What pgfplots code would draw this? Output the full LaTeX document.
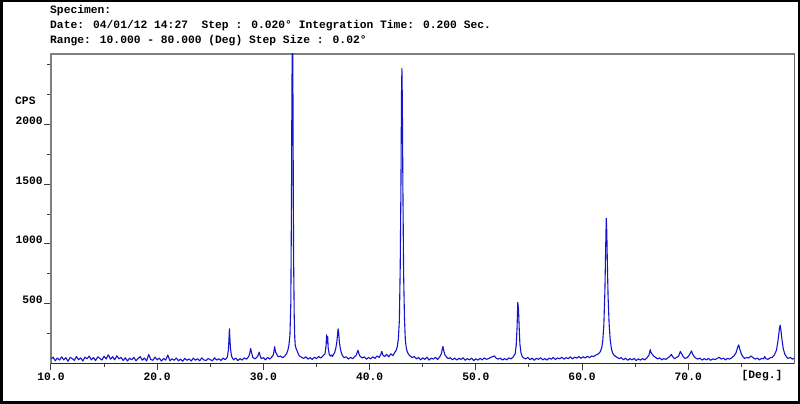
\documentclass[border=0pt]{standalone}
\usepackage{pgfplots}
\pgfplotsset{compat=1.18}
\usepackage{fontspec}
\setmainfont{Liberation Mono}
\definecolor{xrdblue}{RGB}{20,20,205}
\definecolor{axgray}{RGB}{128,128,128}
\definecolor{darkax}{RGB}{60,60,60}
\definecolor{baseax}{RGB}{30,30,120}
\newcommand\mf{\fontsize{11.3}{13}\selectfont\bfseries}
\begin{document}
\begin{tikzpicture}[x=1pt,y=1pt]
\fill[white] (0,0) rectangle (800,404);
\node[anchor=base west, inner sep=0pt] at (50,390.7) {\mf Specimen:};
\node[anchor=base west, inner sep=0pt] at (50,375.7) {\mf Date: 04/01/12 14:27~~Step : 0.020° Integration Time: 0.200 Sec.};
\node[anchor=base west, inner sep=0pt] at (50,360) {\mf Range: 10.000 - 80.000 (Deg) Step Size : 0.02°};
\node[anchor=base west, inner sep=0pt] at (15,299) {\mf CPS};
\node[anchor=base, inner sep=0pt] at (762,25.7) {\mf [Deg.]};
\begin{axis}[at={(48,34)}, anchor=south west, scale only axis,
 width=743.5pt, height=309.5pt,
 xmin=10, xmax=80, ymin=0, ymax=2592,
 axis line style={axgray, line width=1.5pt},
 xtick={10,20,30,40,50,60,70},
 xticklabels={10.0,20.0,30.0,40.0,50.0,60.0,70.0},
 minor xtick={15,25,35,45,55,65,75},
 ytick={500,1000,1500,2000},
 yticklabels={500,1000,1500,2000},
 minor ytick={250,750,1250,1750,2250,2500},
 xtick pos=left, ytick pos=left,
 tick align=outside, major tick length=7pt, minor tick length=3.5pt,
 tick style={darkax, line width=1pt},
 ticklabel style={font=\mf, text=black},
 xticklabel style={anchor=base, inner sep=0pt, yshift=-10pt},
 yticklabel style={anchor=base east, inner sep=0pt, xshift=-1pt},
 clip=true,
]
\addplot[xrdblue, line width=1.1pt, line join=round] coordinates {
(10.0,38)(10.2,52)(10.4,22)(10.6,45)(10.8,28)(11.0,55)(11.2,30)(11.4,48)(11.6,18)(11.8,50)(12.0,40)(12.2,26)(12.4,58)(12.6,31)(12.8,46)(13.0,20)(13.2,52)(13.4,39)(13.6,61)(13.8,30)(14.0,49)(14.2,24)(14.4,55)(14.6,42)(14.8,28)(15.0,60)(15.2,37)(15.4,72)(15.6,35)(15.8,56)(16.0,30)(16.2,64)(16.4,38)(16.6,50)(16.8,24)(17.0,47)(17.2,20)(17.4,44)(17.6,30)(17.8,51)(18.0,22)(18.2,40)(18.4,57)(18.6,27)(18.8,45)(19.0,20)(19.2,74)(19.4,32)(19.6,26)(19.8,53)(20.0,30)(20.2,44)(20.4,20)(20.6,41)(20.8,28)(21.0,70)(21.2,22)(21.4,38)(21.6,26)(21.8,45)(22.0,22)(22.2,36)(22.4,18)(22.6,42)(22.8,26)(23.0,37)(23.2,20)(23.4,44)(23.6,27)(23.8,39)(24.0,22)(24.2,46)(24.4,29)(24.6,24)(24.8,41)(25.0,31)(25.2,22)(25.4,47)(25.6,28)(25.8,39)(26.0,25)(26.2,44)(26.4,32)
(26.5,40)(26.6,52)(26.7,110)(26.75,190)(26.8,290)(26.85,200)(26.9,125)(27.0,60)(27.1,42)(27.2,30)
(27.4,45)(27.6,24)(27.8,40)(28.0,28)(28.2,46)(28.4,35)(28.6,55)(28.7,80)(28.8,125)(28.9,85)(29.0,50)(29.2,38)(29.4,52)(29.5,68)(29.6,95)(29.7,62)(29.8,40)(30.0,48)(30.2,30)(30.4,50)(30.6,36)(30.8,55)(30.95,75)(31.05,140)(31.15,95)(31.3,70)(31.4,55)(31.6,62)(31.8,48)(32.0,60)(32.1,72)(32.2,85)(32.3,110)(32.4,150)(32.5,240)(32.58,500)(32.64,1300)(32.68,2200)(32.72,2750)(32.76,2750)(32.8,1800)(32.84,900)(32.9,400)(32.95,220)(33.0,150)(33.1,118)(33.2,100)(33.3,75)(33.4,62)(33.6,50)(33.8,42)(34.0,55)(34.2,36)(34.4,48)(34.6,33)(34.8,52)(35.0,40)(35.2,58)(35.4,45)(35.6,62)(35.8,80)(35.9,150)(35.95,240)(36.0,170)(36.05,225)(36.1,130)(36.2,75)(36.3,62)(36.4,70)(36.5,58)(36.6,75)(36.7,90)(36.8,120)(36.9,170)(36.98,240)(37.03,290)(37.08,260)(37.15,180)(37.25,120)(37.35,85)(37.45,65)(37.6,48)(37.8,55)(38.0,36)(38.2,50)(38.4,40)(38.6,56)(38.75,70)(38.9,110)(39.0,80)(39.1,60)(39.3,45)(39.5,55)(39.7,35)(39.9,50)(40.1,38)(40.3,56)(40.5,42)(40.7,62)(40.9,50)(41.05,75)(41.15,100)(41.25,70)(41.4,58)(41.6,75)(41.8,55)(42.0,80)(42.2,65)(42.35,90)(42.5,110)(42.6,140)(42.7,200)(42.8,360)(42.88,800)(42.95,1500)(43.0,2250)(43.04,2470)(43.08,2200)(43.13,1500)(43.2,750)(43.28,380)(43.36,200)(43.45,130)(43.55,95)(43.7,72)(43.85,60)(44.0,48)(44.2,58)(44.4,38)(44.6,50)(44.8,30)(45.0,46)(45.2,34)(45.4,52)(45.6,28)(45.8,44)(46.0,36)(46.2,50)(46.4,32)(46.6,55)(46.75,80)(46.9,142)(47.0,100)(47.1,70)(47.25,52)(47.4,40)(47.6,48)(47.8,30)(48.0,45)(48.2,28)(48.4,42)(48.6,33)(48.8,47)(49.0,26)(49.2,40)(49.4,30)(49.6,44)(49.8,24)(50.0,38)(50.2,28)(50.4,42)(50.6,30)(50.8,46)(51.0,34)(51.2,40)(51.4,50)(51.6,58)(51.75,62)(51.9,45)(52.1,36)(52.3,44)(52.5,28)(52.7,40)(52.9,30)(53.1,46)(53.3,38)(53.5,52)(53.7,80)(53.8,150)(53.88,300)(53.95,510)(54.02,450)(54.08,300)(54.15,160)(54.25,90)(54.35,60)(54.5,45)(54.7,38)(54.9,50)(55.1,30)(55.3,44)(55.5,26)(55.7,42)(55.9,34)(56.1,48)(56.3,30)(56.5,40)(56.7,28)(56.9,45)(57.1,35)(57.3,50)(57.5,32)(57.7,46)(57.9,38)(58.1,52)(58.3,36)(58.5,48)(58.7,40)(58.9,55)(59.1,38)(59.3,52)(59.5,44)(59.7,58)(59.9,42)(60.1,56)(60.3,45)(60.5,60)(60.7,48)(60.9,62)(61.1,58)(61.3,70)(61.5,78)(61.7,95)(61.85,130)(61.95,190)(62.05,320)(62.15,600)(62.22,950)(62.28,1215)(62.33,1100)(62.38,850)(62.45,560)(62.55,330)(62.65,200)(62.75,130)(62.85,95)(62.95,75)(63.1,62)(63.3,50)(63.5,40)(63.7,48)(63.9,30)(64.1,44)(64.3,26)(64.5,40)(64.7,30)(64.9,42)(65.1,24)(65.3,38)(65.5,28)(65.7,40)(65.9,30)(66.1,45)(66.3,70)(66.42,115)(66.5,90)(66.6,78)(66.75,60)(66.9,52)(67.1,38)(67.3,46)(67.5,30)(67.7,40)(67.9,34)(68.1,48)(68.3,62)(68.4,75)(68.55,55)(68.7,40)(68.9,50)(69.1,62)(69.25,100)(69.35,85)(69.5,60)(69.7,42)(69.9,48)(70.1,70)(70.3,105)(70.4,80)(70.55,58)(70.7,45)(70.9,36)(71.1,44)(71.3,28)(71.5,40)(71.7,30)(71.9,42)(72.1,26)(72.3,38)(72.5,32)(72.7,40)(72.9,52)(73.1,36)(73.3,44)(73.5,30)(73.7,42)(73.9,36)(74.1,48)(74.3,62)(74.5,90)(74.65,135)(74.75,155)(74.85,120)(75.0,78)(75.15,55)(75.3,42)(75.5,50)(75.7,45)(75.9,62)(76.1,48)(76.3,36)(76.5,44)(76.7,30)(76.9,42)(77.1,38)(77.2,58)(77.3,40)(77.5,34)(77.7,46)(77.9,50)(78.1,70)(78.3,110)(78.45,190)(78.58,290)(78.65,320)(78.72,280)(78.82,200)(78.95,120)(79.1,75)(79.25,55)(79.4,42)(79.6,50)(79.8,36)(80.0,45)
};
\draw[darkax, line width=1.5pt] (rel axis cs:1,0) -- (rel axis cs:1,1);
\draw[baseax, line width=1.2pt] (rel axis cs:0,0) -- (rel axis cs:1,0);
\end{axis}
\draw[black,line width=2.5] (1.25,1.25) rectangle (798.75,402.75);
\pgfresetboundingbox
\useasboundingbox (0,0) rectangle (800,404);
\end{tikzpicture}
\end{document}
